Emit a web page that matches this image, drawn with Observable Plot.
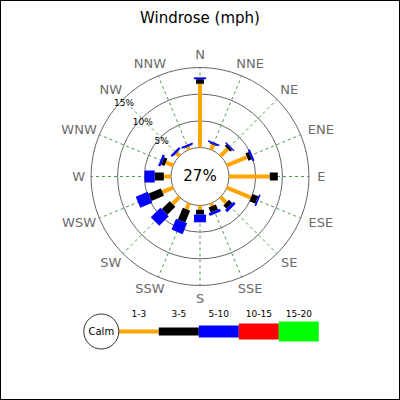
<!DOCTYPE html>
<html><head><meta charset="utf-8">
<script src="https://cdn.jsdelivr.net/npm/d3@7"></script>
<script src="https://cdn.jsdelivr.net/npm/@observablehq/plot@0.6"></script>
<style>
body{margin:0;background:#fff;}
#wrap{position:relative;width:400px;height:400px;font-family:"DejaVu Sans",sans-serif;overflow:hidden;background:#fff}
#title{position:absolute;left:0;top:8px;width:400px;text-align:center;font-size:15px;line-height:20px;color:#000}
#chart{position:absolute;left:0;top:0}
#legend{position:absolute;left:0;top:300px}
#frame{position:absolute;left:0;top:0;width:400px;height:400px;box-sizing:border-box;border:1px solid #000;pointer-events:none}
</style></head><body>
<div id="wrap"><div id="chart"></div><div id="legend"></div><div id="title">Windrose (mph)</div><div id="frame"></div></div>
<script>
// ---- data ----
const directions = ["N","NNE","NE","ENE","E","ESE","SE","SSE","S","SSW","SW","WSW","W","WNW","NW","NNW"];
const speedBins = ["1-3","3-5","5-10","10-15","15-20"];
const calmPct = 27;
const ringTicks = [5, 10, 15];
const pct1to3  = [11.95, 1.0, 1.9, 4.1, 7.65, 4.9, 1.5, 0.55, 0.8, 1.2, 1.85, 2.2, 1.35, 1.5, 0.75, 0.55];
const pct3to5  = [0.85, 0.15, 0.45, 0.65, 1.5, 1.2, 0.85, 1.0, 0.9, 2.4, 2.1, 2.5, 1.7, 0.65, 0.1, 0.1];
const pct5to10 = [0.35, 0.3, 0.25, 0.4, 0, 0.3, 0.55, 0.55, 1.45, 2.2, 2.55, 2.45, 1.9, 0.45, 0.4, 0.35];
const pct10to15 = [0,0,0,0,0,0,0,0,0,0,0,0,0,0,0,0];
const pct15to20 = [0,0,0,0,0,0,0,0,0,0,0,0,0,0,0,0];

// ---- styles ----
const binColors = ["#FFA500", "#000000", "#0000FF", "#FF0000", "#00FF00"];
const binWidths = [4, 8, 12, 16, 20];
const PX = 5.333;          // pixels per percent
const R0 = 29;             // calm circle radius (px)
const C = R0 / PX;         // calm offset in percent units
const CX = 199.5, CY = 176;
const LABEL_R = 116.5;     // px

const series = [pct1to3, pct3to5, pct5to10, pct10to15, pct15to20];
const ang = i => i * Math.PI / 8;
const sx = (u, i) => u * Math.sin(ang(i));
const sy = (u, i) => u * Math.cos(ang(i));

const segments = [];
directions.forEach((d, i) => {
  let cum = 0;
  series.forEach((s, j) => {
    const v = s[i];
    if (v > 0) segments.push({i, j, a: C + cum, b: C + cum + v});
    cum += v;
  });
});

const labelX = (d, i) => sx(LABEL_R / PX, i) + d.length * 4.8 * Math.sin(ang(i)) / PX;
const labelY = (d, i) => sy(LABEL_R / PX, i) + 5.5 * Math.cos(ang(i)) / PX;

const chart = Plot.plot({
  width: 400, height: 400, margin: 0,
  style: {fontFamily: "DejaVu Sans", background: "transparent"},
  x: {domain: [-CX / PX, (400 - CX) / PX], axis: null},
  y: {domain: [-(400 - CY) / PX, CY / PX], axis: null},
  r: {type: "identity"},
  color: {type: "identity"},
  marks: [
    Plot.link(directions, {
      x1: (d, i) => sx(C, i), y1: (d, i) => sy(C, i),
      x2: (d, i) => sx(C + 15, i), y2: (d, i) => sy(C + 15, i),
      stroke: "#4f9a4f", strokeWidth: 1, strokeDasharray: "3,3"
    }),
    Plot.dot([0, ...ringTicks], {x: () => 0, y: () => 0, r: d => (C + d) * PX, stroke: "#666", fill: "none", strokeWidth: 1}),
    Plot.link(segments, {
      x1: d => sx(d.a, d.i), y1: d => sy(d.a, d.i),
      x2: d => sx(d.b, d.i), y2: d => sy(d.b, d.i),
      stroke: d => binColors[d.j], strokeWidth: d => binWidths[d.j]
    }),
    Plot.text(ringTicks, {x: d => -(C + d) * Math.SQRT1_2, y: d => (C + d) * Math.SQRT1_2, text: d => d + "%", fontSize: 9, fill: "#000", dx: 1, dy: 3.5}),
    Plot.text(directions, {x: labelX, y: labelY, text: d => d, fontSize: 13, fill: "#6b6b6b"}),
    Plot.text([calmPct], {x: () => 0, y: () => 0, text: d => d + "%", fontSize: 15, fill: "#000"})
  ]
});
document.getElementById("chart").appendChild(chart);

// ---- legend ----
const LSEG = 40, LSTART = 118.3, CALM_R = 17.5;
const legend = Plot.plot({
  width: 400, height: 60, margin: 0,
  style: {fontFamily: "DejaVu Sans", background: "transparent"},
  x: {domain: [-LSTART / LSEG, (400 - LSTART) / LSEG], axis: null},
  y: {domain: [-29, 31], axis: null},
  r: {type: "identity"},
  color: {type: "identity"},
  marks: [
    Plot.link(speedBins, {x1: (d, i) => i, x2: (d, i) => i + 1, y1: () => 0, y2: () => 0,
      stroke: (d, i) => binColors[i], strokeWidth: (d, i) => binWidths[i]}),
    Plot.text(speedBins, {x: (d, i) => i + 0.5, y: () => 17, text: d => d, fontSize: 9, fill: "#000"}),
    Plot.dot(["Calm"], {x: () => -CALM_R / LSEG, y: () => 0, r: () => CALM_R, stroke: "#000", fill: "#fff", strokeWidth: 0.8}),
    Plot.text(["Calm"], {x: () => -CALM_R / LSEG, y: () => 0, text: d => d, fontSize: 10, fill: "#000"})
  ]
});
document.getElementById("legend").appendChild(legend);
</script>
</body></html>
